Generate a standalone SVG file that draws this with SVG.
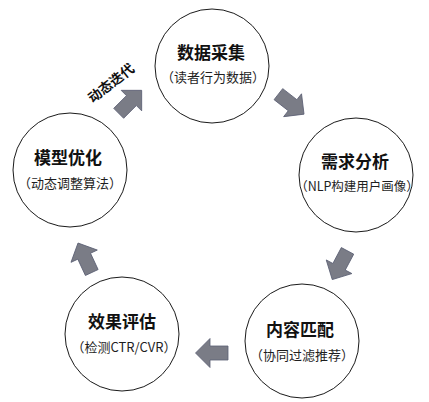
<svg xmlns="http://www.w3.org/2000/svg" width="429" height="402" viewBox="0 0 429 402">
<defs>
<style>
.node circle{fill:#ffffff;stroke:#1a1a1a;stroke-width:1}
.t{font-family:"Noto Sans CJK SC","Liberation Sans",sans-serif;font-size:17px;font-weight:bold;fill:#111;text-anchor:middle}
.s{font-family:"Noto Sans CJK SC","Liberation Sans",sans-serif;font-size:13px;fill:#1e1e1e;text-anchor:middle}
.arr{fill:#7a7c86;stroke:#5b5f74;stroke-width:0.8;stroke-linejoin:miter}
.lbl{font-family:"Noto Sans CJK SC","Liberation Sans",sans-serif;font-size:13.5px;font-weight:bold;fill:#111;text-anchor:middle}
</style>
<path id="ar" d="M -16 -7 L 2 -7 L 2 -14.5 L 16.5 0 L 2 14.5 L 2 7 L -16 7 Z"/>
</defs>
<rect width="429" height="402" fill="#ffffff"/>
<g id="connectors">
<use href="#ar" class="arr" transform="translate(130,102) rotate(-45)"/>
<use href="#ar" class="arr" transform="translate(291,104) rotate(38)"/>
<use href="#ar" class="arr" transform="translate(340,265) rotate(118)"/>
<use href="#ar" class="arr" transform="translate(212,353) rotate(180)"/>
<use href="#ar" class="arr" transform="translate(85,258) rotate(-115)"/>
<text class="lbl" transform="translate(114,87) rotate(-38)">动态迭代</text>
</g>
<g id="n1" class="node">
<circle cx="212" cy="66" r="57"/>
<text class="t" x="211" y="59">数据采集</text>
<text class="s" x="213" y="82">（读者行为数据）</text>
</g>
<g id="n2" class="node">
<circle cx="356" cy="175" r="57"/>
<text class="t" x="355" y="168">需求分析</text>
<text class="s" x="357" y="191" style="font-size:12.5px">（NLP构建用户画像）</text>
</g>
<g id="n3" class="node">
<circle cx="302" cy="341" r="57"/>
<text class="t" x="300" y="336">内容匹配</text>
<text class="s" x="302" y="360">（协同过滤推荐）</text>
</g>
<g id="n4" class="node">
<circle cx="122" cy="334" r="57"/>
<text class="t" x="122" y="328">效果评估</text>
<text class="s" x="124" y="352">（检测CTR/CVR）</text>
</g>
<g id="n5" class="node">
<circle cx="70" cy="170" r="57"/>
<text class="t" x="68" y="164">模型优化</text>
<text class="s" x="70" y="188">（动态调整算法）</text>
</g>
</svg>
